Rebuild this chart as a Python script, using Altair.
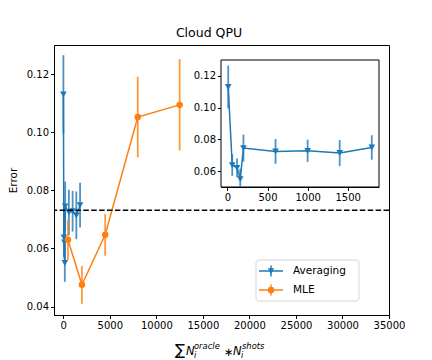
import altair as alt
import pandas as pd

# ---- data ----
avg_x = [10, 60, 120, 160, 200, 600, 1000, 1400, 1800]
avg_val = [0.1130, 0.0638, 0.0621, 0.0550, 0.0745, 0.0724, 0.0728, 0.0714, 0.0749]
avg_sd = [0.0135, 0.0068, 0.0058, 0.0065, 0.0085, 0.0078, 0.0070, 0.0082, 0.0077]
mle_x = [500, 2000, 4500, 8000, 12500]
mle_val = [0.0630, 0.0475, 0.0647, 0.1052, 0.1094]
mle_sd = [0.0070, 0.0065, 0.0072, 0.0139, 0.0157]
threshold = [0.0731]
x_ticks = [0, 5000, 10000, 15000, 20000, 25000, 30000, 35000]
y_ticks = [0.04, 0.06, 0.08, 0.10, 0.12]
inset_x_ticks = [0, 500, 1000, 1500]
inset_y_ticks = [0.06, 0.08, 0.10, 0.12]

BLUE = "#1f77b4"
ORANGE = "#ff7f0e"
W, H = 335, 270

avg = pd.DataFrame({"x": avg_x, "v": avg_val, "sd": avg_sd})
avg["lo"] = avg["v"] - avg["sd"]
avg["hi"] = avg["v"] + avg["sd"]
mle = pd.DataFrame({"x": mle_x, "v": mle_val, "sd": mle_sd})
mle["lo"] = mle["v"] - mle["sd"]
mle["hi"] = mle["v"] + mle["sd"]
thr = pd.DataFrame({"v": threshold})
dummy = pd.DataFrame({"a": [0]})

# ---- main axes ----
xs = alt.Scale(domain=[-1000, 35000], nice=False, zero=False)
ys = alt.Scale(domain=[0.0371, 0.13], nice=False, zero=False)
xax = alt.Axis(values=x_ticks, format="d", title=None, grid=False)
yax = alt.Axis(values=y_ticks, format=".2f", title="Error", grid=False,
               titleFontWeight="normal", titleFontSize=10.5, titlePadding=8)

def series(df, color, shape, size, xscale, yscale, xaxis, yaxis):
    X = alt.X("x:Q", scale=xscale, axis=xaxis)
    err = alt.Chart(df).mark_rule(color=color, strokeWidth=1.8, opacity=0.8).encode(
        x=X, y=alt.Y("lo:Q", scale=yscale, axis=yaxis), y2="hi:Q")
    line = alt.Chart(df).mark_line(color=color, strokeWidth=1.5).encode(
        x=X, y=alt.Y("v:Q", scale=yscale, axis=yaxis))
    pts = alt.Chart(df).mark_point(shape=shape, filled=True, size=size, color=color,
                                   opacity=1).encode(
        x=X, y=alt.Y("v:Q", scale=yscale, axis=yaxis))
    return [err, line, pts]

dash = alt.Chart(thr).mark_rule(color="black", strokeWidth=1.5,
                                strokeDash=[5.5, 2.4]).encode(
    y=alt.Y("v:Q", scale=ys, axis=yax))

main = alt.layer(
    *series(avg, BLUE, "triangle-down", 45, xs, ys, xax, yax),
    *series(mle, ORANGE, "circle", 42, xs, ys, xax, yax),
    dash,
)

# ---- inset axes ----
IX0, IX1, IY0, IY1 = 167, 325, 15, 142
ixs = alt.Scale(domain=[-80, 1890], range=[IX0, IX1], nice=False, zero=False)
iys = alt.Scale(domain=[0.05, 0.13], range=[IY1, IY0], nice=False, zero=False, clamp=True)
ixax = alt.Axis(orient="bottom", offset=-(H - IY1), values=inset_x_ticks, format="d",
                title=None, grid=False)
iyax = alt.Axis(orient="left", offset=-IX0, values=inset_y_ticks, format=".2f",
                title=None, grid=False)
box = alt.Chart(dummy).mark_rect(fill="white", stroke="black", strokeWidth=1).encode(
    x=alt.value(IX0), x2=alt.value(IX1), y=alt.value(IY0), y2=alt.value(IY1))
inset = alt.layer(box, *series(avg, BLUE, "triangle-down", 45, ixs, iys, ixax, iyax))

# ---- annotations: title, x-label, legend ----
def txt(t, x, y, size, style="normal", align="left", baseline="alphabetic"):
    return alt.Chart(dummy).mark_text(text=t, fontSize=size, fontStyle=style,
                                      align=align, baseline=baseline, color="black",
                                      font="DejaVu Sans").encode(
        x=alt.value(x), y=alt.value(y))

ann = [
    txt("Cloud QPU", 155, -8, 12.5, align="center"),
    txt("\u2211", 121, 310, 15),
    txt("i", 124.5, 313.5, 7.5, "italic", baseline="bottom"),
    txt("N", 132, 310, 11.5, "italic"),
    txt("oracle", 140, 303.5, 8.4, "italic"),
    txt("i", 140, 313, 8.4, "italic"),
    txt("\u2217", 170, 311, 11.5),
    txt("N", 179, 310, 11.5, "italic"),
    txt("shots", 188, 303.5, 8.4, "italic"),
    txt("i", 187, 313, 8.4, "italic"),
]

leg_box = alt.Chart(dummy).mark_rect(fill="white", stroke="#cccccc", cornerRadius=3,
                                     strokeWidth=1, opacity=0.8).encode(
    x=alt.value(202), x2=alt.value(305), y=alt.value(215), y2=alt.value(256))
legend = [leg_box]
for name, color, shape, yy in [("Averaging", BLUE, "triangle-down", 226),
                               ("MLE", ORANGE, "circle", 245)]:
    legend.append(alt.Chart(dummy).mark_rule(color=color, strokeWidth=1.5).encode(
        x=alt.value(205), x2=alt.value(229), y=alt.value(yy)))
    legend.append(alt.Chart(dummy).mark_rule(color=color, strokeWidth=1.8, opacity=0.8).encode(
        x=alt.value(217), y=alt.value(yy - 5.5), y2=alt.value(yy + 5.5)))
    legend.append(alt.Chart(dummy).mark_point(shape=shape, filled=True, size=42,
                                              color=color, opacity=1).encode(
        x=alt.value(217), y=alt.value(yy)))
    legend.append(txt(name, 239, yy, 10.5, baseline="middle"))

annotations = alt.layer(*ann, *legend)

chart = alt.layer(main, inset, annotations).resolve_scale(
    x="independent", y="independent"
).properties(
    width=W, height=H,
    autosize=alt.AutoSizeParams(type="none"),
    padding={"left": 46, "top": 37, "right": 35, "bottom": 44},
).configure(font="DejaVu Sans").configure_view(
    stroke="black", strokeWidth=1
).configure_axis(
    domainColor="black", tickColor="black", tickSize=3.5, tickWidth=1,
    labelColor="black", labelFontSize=10, labelPadding=2, labelFont="DejaVu Sans",
    titleColor="black", titleFont="DejaVu Sans", labelFlush=False, labelOverlap=False
)

chart.save("out.html", embed_options={"renderer": "svg", "actions": False})
